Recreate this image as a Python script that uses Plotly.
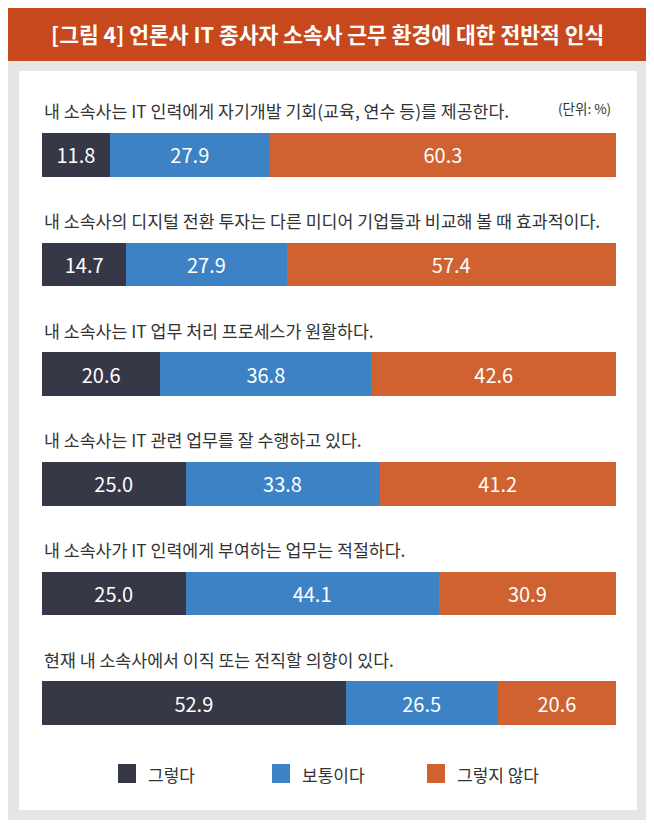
import plotly.graph_objects as go

# data
statements = [
    "내 소속사는 IT 인력에게 자기개발 기회(교육, 연수 등)를 제공한다.",
    "내 소속사의 디지털 전환 투자는 다른 미디어 기업들과 비교해 볼 때 효과적이다.",
    "내 소속사는 IT 업무 처리 프로세스가 원활하다.",
    "내 소속사는 IT 관련 업무를 잘 수행하고 있다.",
    "내 소속사가 IT 인력에게 부여하는 업무는 적절하다.",
    "현재 내 소속사에서 이직 또는 전직할 의향이 있다.",
]
agree = [11.8, 14.7, 20.6, 25.0, 25.0, 52.9]
neutral = [27.9, 27.9, 36.8, 33.8, 44.1, 26.5]
disagree = [60.3, 57.4, 42.6, 41.2, 30.9, 20.6]

series_names = ["그렇다", "보통이다", "그렇지 않다"]
series_colors = ["#363847", "#3c82c5", "#cf6230"]

title = "[그림 4] 언론사 IT 종사자 소속사 근무 환경에 대한 전반적 인식"
unit_note = "(단위: %)"

FONT = "Noto Sans CJK KR"
W, H = 638, 812
ML, MR, MT, MB = 34, 30, 92, 62
plot_w = W - ML - MR
plot_h = H - MT - MB


def px_x(x):
    return (x - ML) / plot_w


def px_y(y):
    return 1 - (y - MT) / plot_h


fig = go.Figure()

for name, vals, color in zip(series_names, [agree, neutral, disagree], series_colors):
    fig.add_trace(go.Bar(
        y=statements,
        x=vals,
        orientation="h",
        name=name,
        marker={"color": color, "line": {"width": 0}},
        width=0.4,
        texttemplate="%{x:.1f}",
        textposition="inside",
        insidetextanchor="middle",
        textangle=0,
        textfont={"family": FONT, "size": 20, "color": "white"},
        showlegend=False,
    ))

# background boxes
fig.add_shape(type="rect", xref="paper", yref="paper",
              x0=px_x(0), x1=px_x(W), y0=px_y(0), y1=px_y(53),
              fillcolor="#c8481d", line={"width": 0}, layer="below")
fig.add_shape(type="rect", xref="paper", yref="paper",
              x0=px_x(11), x1=px_x(629), y0=px_y(63), y1=px_y(802),
              fillcolor="white", line={"width": 0}, layer="below")

annotations = [
    dict(text=title, xref="paper", yref="paper", x=px_x(W / 2), y=px_y(26),
         showarrow=False, xanchor="center", yanchor="middle",
         font={"family": FONT, "size": 21.5, "color": "white", "weight": "bold"}),
    dict(text=unit_note, xref="paper", yref="paper", x=px_x(605), y=px_y(100),
         showarrow=False, xanchor="right", yanchor="middle",
         font={"family": FONT, "size": 13.5, "color": "#333333"}),
]

# statement labels above each bar
for s in statements:
    annotations.append(dict(
        text=s, xref="x", yref="y", x=0, y=s, yshift=44,
        showarrow=False, xanchor="left", yanchor="middle",
        font={"family": FONT, "size": 17.3, "color": "#333333"},
    ))

# legend
legend_x = [110, 264, 419]
for lx, name, color in zip(legend_x, series_names, series_colors):
    fig.add_shape(type="rect", xref="paper", yref="paper",
                  x0=px_x(lx), x1=px_x(lx + 18), y0=px_y(756), y1=px_y(775),
                  fillcolor=color, line={"width": 0})
    annotations.append(dict(
        text=name, xref="paper", yref="paper", x=px_x(lx + 28), y=px_y(766),
        showarrow=False, xanchor="left", yanchor="middle",
        font={"family": FONT, "size": 17, "color": "#333333"},
    ))

fig.update_layout(
    barmode="stack",
    width=W,
    height=H,
    margin={"l": ML, "r": MR, "t": MT, "b": MB},
    paper_bgcolor="#e6e6e6",
    plot_bgcolor="rgba(0,0,0,0)",
    xaxis={"range": [0, 100], "visible": False, "fixedrange": True},
    yaxis={"range": [len(statements) - 0.5, -0.5], "visible": False,
           "type": "category", "fixedrange": True},
    annotations=annotations,
    font={"family": FONT},
)

fig.write_html("out.html", config={"displayModeBar": False})
